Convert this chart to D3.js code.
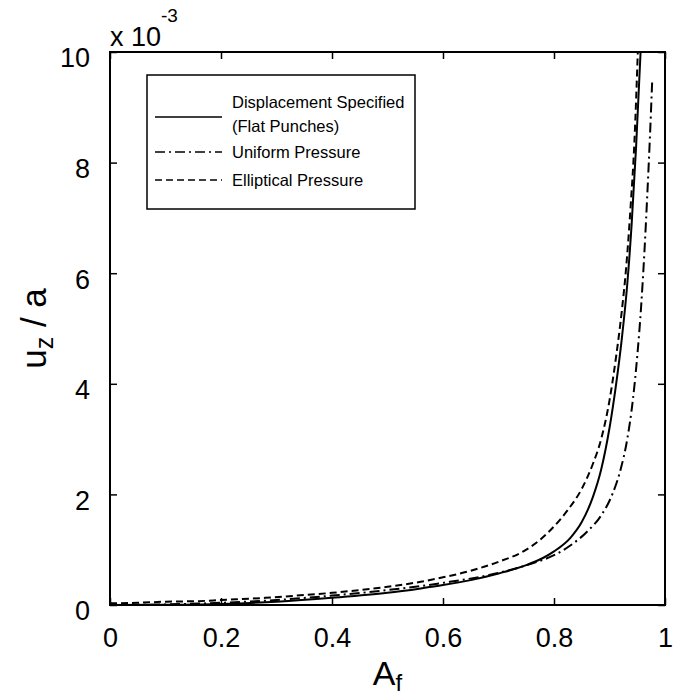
<!DOCTYPE html>
<html>
<head>
<meta charset="utf-8">
<script src="https://cdn.jsdelivr.net/npm/d3@7"></script>
<style>
  body { margin: 0; background: #fff; }
  svg text { font-family: "Liberation Sans", Arial, sans-serif; fill: #000; }
</style>
</head>
<body>
<script>
// data (u_z/a in units of 1e-3)
var afDisp = [0, 0.1, 0.2, 0.3, 0.4, 0.5, 0.56, 0.6, 0.65, 0.7, 0.75, 0.78, 0.8, 0.83, 0.85, 0.87, 0.885, 0.9, 0.912, 0.922, 0.932, 0.94, 0.948, 0.956];
var uzDisp = [0, 0.005, 0.02, 0.06, 0.13, 0.22, 0.3, 0.36, 0.45, 0.57, 0.72, 0.85, 0.97, 1.22, 1.5, 1.95, 2.45, 3.2, 4.0, 4.8, 5.8, 6.9, 8.3, 10];

var afUni = [0, 0.1, 0.2, 0.3, 0.4, 0.5, 0.6, 0.7, 0.76, 0.8, 0.83, 0.86, 0.885, 0.905, 0.92, 0.932, 0.942, 0.95, 0.957, 0.963, 0.968, 0.973, 0.977];
var uzUni = [0, 0.01, 0.04, 0.09, 0.17, 0.27, 0.4, 0.58, 0.75, 0.9, 1.08, 1.33, 1.62, 2.0, 2.45, 3.0, 3.7, 4.5, 5.4, 6.4, 7.4, 8.5, 9.5];

var afEll = [0, 0.05, 0.1, 0.16, 0.2, 0.28, 0.35, 0.4, 0.5, 0.56, 0.6, 0.65, 0.7, 0.75, 0.775, 0.8, 0.825, 0.85, 0.87, 0.885, 0.9, 0.912, 0.922, 0.93, 0.938, 0.945, 0.951];
var uzEll = [0.03, 0.04, 0.06, 0.07, 0.09, 0.13, 0.18, 0.22, 0.33, 0.42, 0.5, 0.62, 0.78, 1.0, 1.18, 1.42, 1.72, 2.1, 2.55, 3.0, 3.7, 4.5, 5.3, 6.1, 7.2, 8.4, 10];

var xTicks = [0, 0.2, 0.4, 0.6, 0.8, 1];
var yTicks = [0, 2, 4, 6, 8, 10];

var legendLabels = [["Displacement Specified", "(Flat Punches)"], ["Uniform Pressure"], ["Elliptical Pressure"]];

var margin = {top: 52, right: 10, bottom: 95, left: 110},
    width = 675 - margin.left - margin.right,
    height = 700 - margin.top - margin.bottom;

var x = d3.scaleLinear().domain([0, 1]).range([0, width]);
var y = d3.scaleLinear().domain([0, 10]).range([height, 0]);

var svg = d3.select("body").append("svg")
    .attr("width", 675)
    .attr("height", 700)
  .append("g")
    .attr("transform", "translate(" + margin.left + "," + margin.top + ")");

svg.append("clipPath").attr("id", "clip")
  .append("rect").attr("width", width).attr("height", height);

function zip(a, b) { return a.map(function(v, i) { return [v, b[i]]; }); }

var line = d3.line()
    .x(function(d) { return x(d[0]); })
    .y(function(d) { return y(d[1]); })
    .curve(d3.curveMonotoneX);

var series = [
  {data: zip(afDisp, uzDisp), dash: null},
  {data: zip(afUni, uzUni), dash: "10,4,2,4"},
  {data: zip(afEll, uzEll), dash: "7,4"}
];

series.forEach(function(s) {
  svg.append("path")
    .datum(s.data)
    .attr("clip-path", "url(#clip)")
    .attr("fill", "none")
    .attr("stroke", "#000")
    .attr("stroke-width", 2)
    .attr("stroke-dasharray", s.dash)
    .attr("d", line);
});

// axes: inward ticks on all four sides
var tl = 7;
svg.append("g")
  .attr("transform", "translate(0," + height + ")")
  .call(d3.axisBottom(x).tickValues(xTicks).tickSize(-tl).tickPadding(18).tickFormat(d3.format("")))
  .call(function(g) {
    g.select(".domain").remove();
    g.selectAll("line").attr("stroke-width", 1.5);
    g.selectAll("text").attr("font-size", 27).attr("dy", "0.9em");
  });
svg.append("g")
  .call(d3.axisTop(x).tickValues(xTicks).tickSize(-tl).tickFormat(""))
  .call(function(g) { g.select(".domain").remove(); g.selectAll("line").attr("stroke-width", 1.5); });
svg.append("g")
  .call(d3.axisLeft(y).tickValues(yTicks).tickSize(-tl).tickPadding(20))
  .call(function(g) {
    g.select(".domain").remove();
    g.selectAll("line").attr("stroke-width", 1.5);
    g.selectAll("text").attr("font-size", 27).attr("dy", "0.55em");
  });
svg.append("g")
  .attr("transform", "translate(" + width + ",0)")
  .call(d3.axisRight(y).tickValues(yTicks).tickSize(-tl).tickFormat(""))
  .call(function(g) { g.select(".domain").remove(); g.selectAll("line").attr("stroke-width", 1.5); });

svg.append("rect")
  .attr("width", width).attr("height", height)
  .attr("fill", "none").attr("stroke", "#000").attr("stroke-width", 2);

// exponent
var ex = svg.append("text").attr("x", 0).attr("y", -6).attr("font-size", 27);
ex.append("tspan").text("x 10");
ex.append("tspan").attr("font-size", 19).attr("dy", -24).text("-3");

// axis labels
var xl = svg.append("text")
  .attr("x", width / 2).attr("y", height + 80)
  .attr("text-anchor", "middle").attr("font-size", 34);
xl.append("tspan").text("A");
xl.append("tspan").attr("font-size", 24).attr("dy", 6).text("f");

var yl = svg.append("text")
  .attr("transform", "translate(-64," + (height / 2) + ") rotate(-90)")
  .attr("text-anchor", "middle").attr("font-size", 35);
yl.append("tspan").text("u");
yl.append("tspan").attr("font-size", 25).attr("dy", 7).text("z");
yl.append("tspan").attr("dy", -7).text(" / a");

// legend
var lg = svg.append("g").attr("transform", "translate(" + (147 - margin.left) + "," + (75 - margin.top) + ")");
lg.append("rect").attr("width", 268).attr("height", 134)
  .attr("fill", "#fff").attr("stroke", "#000").attr("stroke-width", 1.5);
var lineY = [42, 77, 105];
var textY = [[33, 57], [83], [111]];
series.forEach(function(s, i) {
  lg.append("line")
    .attr("x1", 8).attr("x2", 75)
    .attr("y1", lineY[i]).attr("y2", lineY[i])
    .attr("stroke", "#000").attr("stroke-width", 1.5)
    .attr("stroke-dasharray", s.dash);
  legendLabels[i].forEach(function(t, j) {
    lg.append("text")
      .attr("x", 85).attr("y", textY[i][j])
      .attr("font-size", 16.5)
      .text(t);
  });
});
</script>
</body>
</html>
